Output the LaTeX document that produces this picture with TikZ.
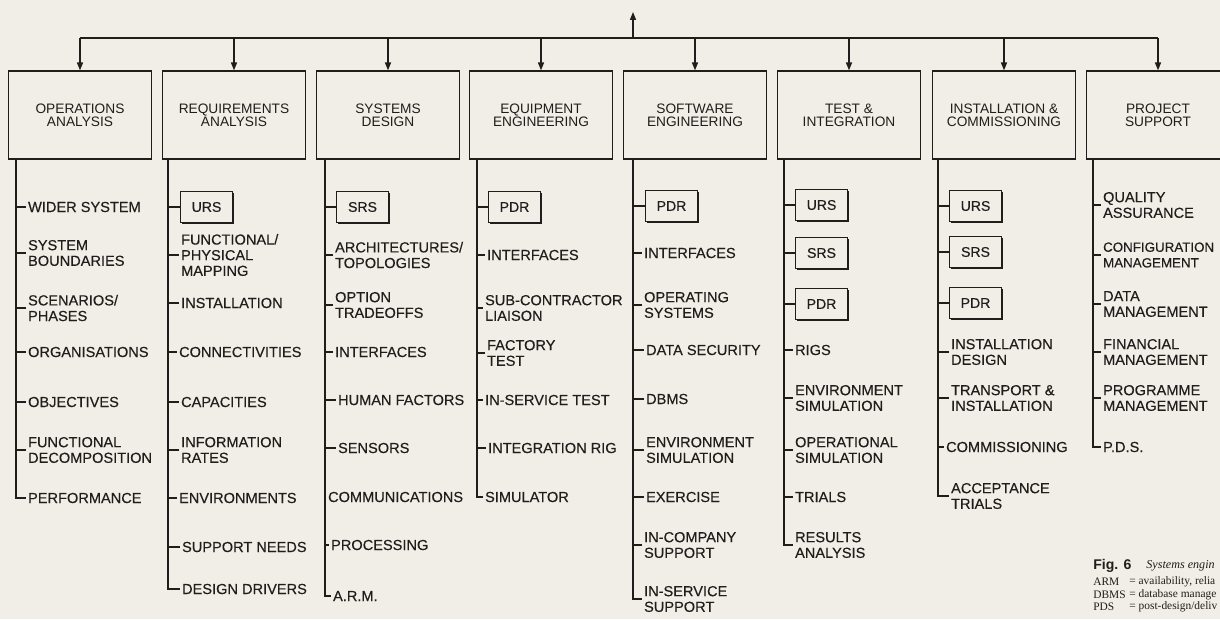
\documentclass[tikz,border=0pt]{standalone}
\usepackage{fontspec}
\setmainfont{Liberation Sans}
\newfontfamily\itemfont[FakeBold=0.3]{Liberation Sans}
\newfontfamily\capserif{Liberation Serif}
\usetikzlibrary{arrows.meta, shadows}

\definecolor{paper}{RGB}{241,238,231}
\definecolor{ink}{RGB}{32,30,28}

\tikzset{
  head/.style={draw=ink, fill=paper, line width=0.7pt, minimum width=2.86cm,
    minimum height=1.76cm, align=center, text=ink,
    font=\fontsize{7.8}{7.6}\selectfont,
    general shadow={fill=ink, shadow xshift=0.5pt, shadow yshift=-0.5pt}},
  doc/.style={draw=ink, fill=paper, line width=0.6pt, minimum width=1.04cm,
    minimum height=0.62cm, anchor=west, inner sep=0pt, text=ink,
    font=\itemfont\fontsize{8}{9}\selectfont,
    general shadow={fill=ink, shadow xshift=0.6pt, shadow yshift=-0.6pt}},
  item/.style={anchor=west, align=left, inner xsep=1pt, inner ysep=0pt,
    text=ink, font=\itemfont\fontsize{8.3}{8.9}\selectfont},
  trunk/.style={draw=ink, line width=0.6pt},
  feed/.style={draw=ink, line width=0.8pt, -{Triangle[length=4.5pt,width=3.4pt]}},
  capline/.style={anchor=west, inner sep=0pt, text=ink,
    font=\capserif\fontsize{6.5}{8}\selectfont},
}

\begin{document}
\begin{tikzpicture}[x=0.02cm, y=-0.02cm]
  \useasboundingbox (0,0) rectangle (1220,619);
  \clip (0,0) rectangle (1220,619);
  \fill[paper] (0,0) rectangle (1220,619);

  % top level work packages
  \node[head] (h1) at (80,115)   {OPERATIONS\\ANALYSIS};
  \node[head] (h2) at (234,115)  {REQUIREMENTS\\ANALYSIS};
  \node[head] (h3) at (388,115)  {SYSTEMS\\DESIGN};
  \node[head] (h4) at (541,115)  {EQUIPMENT\\ENGINEERING};
  \node[head] (h5) at (695,115)  {SOFTWARE\\ENGINEERING};
  \node[head] (h6) at (849,115)  {TEST \&\\INTEGRATION};
  \node[head] (h7) at (1004,115) {INSTALLATION \&\\COMMISSIONING};
  \node[head] (h8) at (1158,115) {PROJECT\\SUPPORT};

  \coordinate (bus) at (0,38);
  \coordinate (up) at (633,12);
  \draw[draw=ink, line width=0.8pt] (h1.north |- bus) -- (h8.north |- bus);
  \draw[feed] (up |- bus) -- (up);
  \foreach \i in {1,...,8}
    \draw[feed] (h\i.north |- bus) -- (h\i.north);

  % trunk tops
  \coordinate (t1) at (16,159);
  \coordinate (t2) at (168,159);
  \coordinate (t3) at (325,159);
  \coordinate (t4) at (477,159);
  \coordinate (t5) at (633,159);
  \coordinate (t6) at (784,159);
  \coordinate (t7) at (938,159);
  \coordinate (t8) at (1093,159);

  % operations analysis
  \node[item] (c1a) at (26,207) {WIDER SYSTEM};
  \node[item] (c1b) at (26,253) {SYSTEM\\BOUNDARIES};
  \node[item] (c1c) at (26,308) {SCENARIOS/\\PHASES};
  \node[item] (c1d) at (26,352) {ORGANISATIONS};
  \node[item] (c1e) at (26,402) {OBJECTIVES};
  \node[item] (c1f) at (26,450) {FUNCTIONAL\\DECOMPOSITION};
  \node[item] (c1g) at (26,498) {PERFORMANCE};

  % requirements analysis
  \node[doc]  (c2a) at (180,207) {URS};
  \node[item] (c2b) at (179,255) {FUNCTIONAL/\\PHYSICAL\\MAPPING};
  \node[item] (c2c) at (179,303) {INSTALLATION};
  \node[item] (c2d) at (177,352) {CONNECTIVITIES};
  \node[item] (c2e) at (179,402) {CAPACITIES};
  \node[item] (c2f) at (179,450) {INFORMATION\\RATES};
  \node[item] (c2g) at (177,498) {ENVIRONMENTS};
  \node[item] (c2h) at (180,547) {SUPPORT NEEDS};
  \node[item] (c2i) at (180,589) {DESIGN DRIVERS};

  % systems design
  \node[doc]  (c3a) at (336,207) {SRS};
  \node[item] (c3b) at (333,255) {ARCHITECTURES/\\TOPOLOGIES};
  \node[item] (c3c) at (333,305) {OPTION\\TRADEOFFS};
  \node[item] (c3d) at (333,352) {INTERFACES};
  \node[item] (c3e) at (336,400) {HUMAN FACTORS};
  \node[item] (c3f) at (336,448) {SENSORS};
  \node[item] (c3g) at (326,497) {COMMUNICATIONS};
  \node[item] (c3h) at (329,545) {PROCESSING};
  \node[item] (c3i) at (331,596) {A.R.M.};

  % equipment engineering
  \node[doc]  (c4a) at (488,207) {PDR};
  \node[item] (c4b) at (485,255) {INTERFACES};
  \node[item] (c4c) at (483,308) {SUB-CONTRACTOR\\LIAISON};
  \node[item] (c4d) at (485,353) {FACTORY\\TEST};
  \node[item] (c4e) at (483,400) {IN-SERVICE TEST};
  \node[item] (c4f) at (486,448) {INTEGRATION RIG};
  \node[item] (c4g) at (483,497) {SIMULATOR};

  % software engineering
  \node[doc]  (c5a) at (645,206) {PDR};
  \node[item] (c5b) at (642,253) {INTERFACES};
  \node[item] (c5c) at (642,305) {OPERATING\\SYSTEMS};
  \node[item] (c5d) at (644,350) {DATA SECURITY};
  \node[item] (c5e) at (644,399) {DBMS};
  \node[item] (c5f) at (644,450) {ENVIRONMENT\\SIMULATION};
  \node[item] (c5g) at (644,497) {EXERCISE};
  \node[item] (c5h) at (642,545) {IN-COMPANY\\SUPPORT};
  \node[item] (c5i) at (642,599) {IN-SERVICE\\SUPPORT};

  % test and integration
  \node[doc]  (c6a) at (795,205) {URS};
  \node[doc]  (c6b) at (795,253) {SRS};
  \node[doc]  (c6c) at (795,304) {PDR};
  \node[item] (c6d) at (793,350) {RIGS};
  \node[item] (c6e) at (793,398) {ENVIRONMENT\\SIMULATION};
  \node[item] (c6f) at (793,450) {OPERATIONAL\\SIMULATION};
  \node[item] (c6g) at (793,497) {TRIALS};
  \node[item] (c6h) at (793,545) {RESULTS\\ANALYSIS};

  % installation and commissioning
  \node[doc]  (c7a) at (949,206) {URS};
  \node[doc]  (c7b) at (949,252) {SRS};
  \node[doc]  (c7c) at (949,303) {PDR};
  \node[item] (c7d) at (949,352) {INSTALLATION\\DESIGN};
  \node[item] (c7e) at (949,398) {TRANSPORT \&\\INSTALLATION};
  \node[item] (c7f) at (944,447) {COMMISSIONING};
  \node[item] (c7g) at (949,496) {ACCEPTANCE\\TRIALS};

  % project support
  \node[item] (c8a) at (1101,205) {QUALITY\\ASSURANCE};
  \node[item, font=\itemfont\fontsize{7.6}{8.9}\selectfont]
              (c8b) at (1101,255) {CONFIGURATION\\MANAGEMENT};
  \node[item] (c8c) at (1101,304) {DATA\\MANAGEMENT};
  \node[item] (c8d) at (1101,352) {FINANCIAL\\MANAGEMENT};
  \node[item] (c8e) at (1101,398) {PROGRAMME\\MANAGEMENT};
  \node[item] (c8f) at (1101,447) {P.D.S.};

  % branches
  \foreach \n in {c1a,c1b,c1c,c1d,c1e,c1f}
    \draw[trunk] (t1 |- \n.west) -- (\n.west);
  \draw[trunk] (t1) |- (c1g.west);
  \foreach \n in {c2a,c2b,c2c,c2d,c2e,c2f,c2g,c2h}
    \draw[trunk] (t2 |- \n.west) -- (\n.west);
  \draw[trunk] (t2) |- (c2i.west);
  \foreach \n in {c3a,c3b,c3c,c3d,c3e,c3f,c3g,c3h}
    \draw[trunk] (t3 |- \n.west) -- (\n.west);
  \draw[trunk] (t3) |- (c3i.west);
  \foreach \n in {c4a,c4b,c4c,c4d,c4e,c4f}
    \draw[trunk] (t4 |- \n.west) -- (\n.west);
  \draw[trunk] (t4) |- (c4g.west);
  \foreach \n in {c5a,c5b,c5c,c5d,c5e,c5f,c5g,c5h}
    \draw[trunk] (t5 |- \n.west) -- (\n.west);
  \draw[trunk] (t5) |- (c5i.west);
  \foreach \n in {c6a,c6b,c6c,c6d,c6e,c6f,c6g}
    \draw[trunk] (t6 |- \n.west) -- (\n.west);
  \draw[trunk] (t6) |- (c6h.west);
  \foreach \n in {c7a,c7b,c7c,c7d,c7e,c7f}
    \draw[trunk] (t7 |- \n.west) -- (\n.west);
  \draw[trunk] (t7) |- (c7g.west);
  \foreach \n in {c8a,c8b,c8c,c8d,c8e}
    \draw[trunk] (t8 |- \n.west) -- (\n.west);
  \draw[trunk] (t8) |- (c8f.west);

  % caption
  \node[anchor=west, inner sep=0pt, text=ink, font=\bfseries\fontsize{8}{9}\selectfont]
    (fig) at (1093,566) {Fig. 6};
  \node[capline, font=\capserif\itshape\fontsize{6.9}{8}\selectfont]
    (title) at (1146,566) {Systems engin};
  \node[capline] (arm) at (1093,582) {ARM};
  \node[capline] (armtxt) at (1129,582) {= availability, relia};
  \node[capline] (dbms) at (1093,595) {DBMS};
  \node[capline] (dbmstxt) at (1129,595) {= database manage};
  \node[capline] (pds) at (1093,607) {PDS};
  \node[capline] (pdstxt) at (1129,607) {= post-design/deliv};
\end{tikzpicture}
\end{document}
